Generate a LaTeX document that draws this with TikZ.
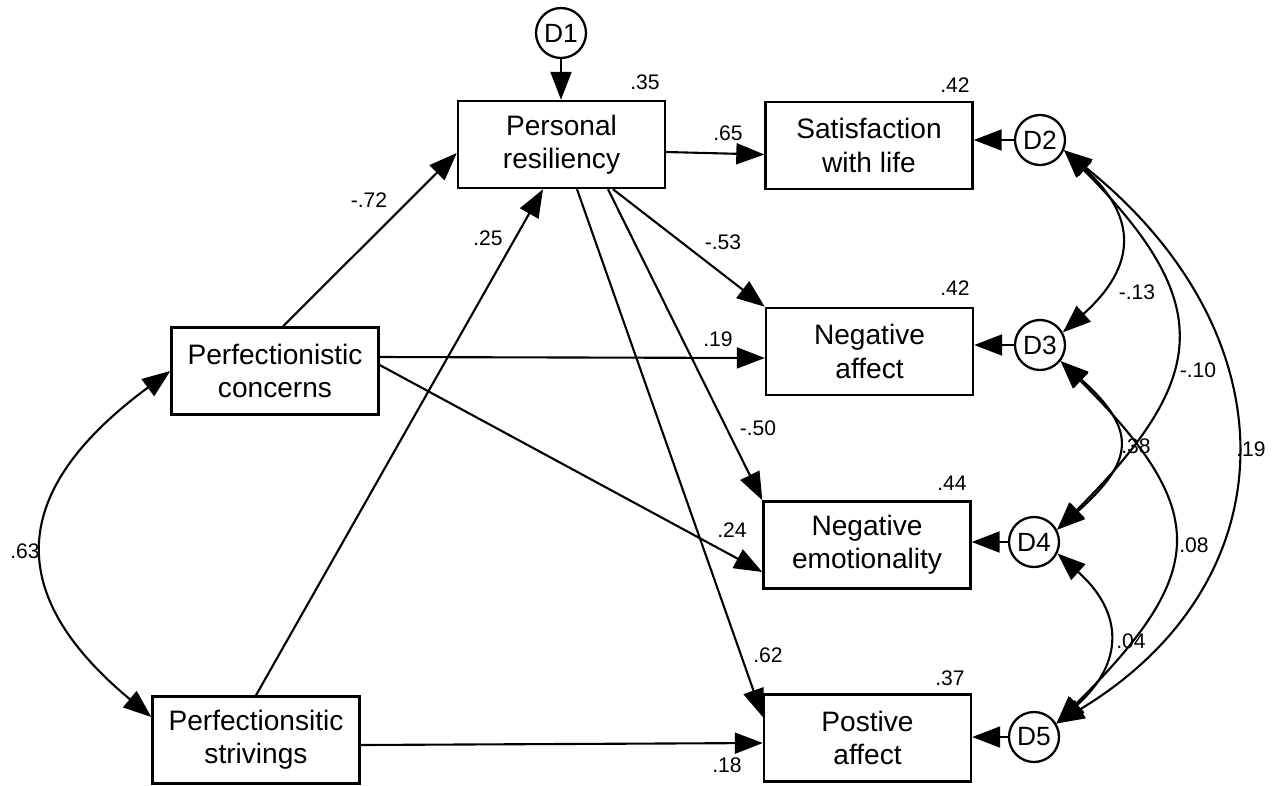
\documentclass[tikz,border=0pt]{standalone}
\usepackage{fontspec}
\setmainfont{Liberation Sans}
\usetikzlibrary{arrows.meta,calc}
\begin{document}
\begin{tikzpicture}[x=0.02cm,y=-0.02cm,
  box/.style={draw,line width=1.4pt,minimum width=4.14cm,minimum height=1.74cm,inner sep=0pt,align=center,font=\fontsize{16}{19}\selectfont},
  err/.style={draw,circle,line width=1.3pt,minimum size=1cm,inner sep=0pt,font=\fontsize{15}{18}\selectfont},
  lab/.style={font=\fontsize{12}{14}\selectfont,inner sep=0pt},
  arr/.style={line width=1.2pt,-{Triangle[length=0.56cm,width=0.42cm]}},
  cov/.style={line width=1.2pt,{Triangle[length=0.56cm,width=0.42cm]}-{Triangle[length=0.56cm,width=0.42cm]}}
]
\useasboundingbox (0,0) rectangle (1280,785);

% boxes
\node[box] (PR)  at (561.5,144.5) {Personal\\resiliency};
\node[box] (SWL) at (869,145.5) {Satisfaction\\with life};
\node[box] (NA)  at (869.5,351.5) {Negative\\affect};
\node[box] (NE)  at (867,545) {Negative\\emotionality};
\node[box] (PA)  at (867.5,738) {Postive\\affect};
\node[box] (PC)  at (275,371) {Perfectionistic\\concerns};
\node[box] (PS)  at (256,740) {Perfectionsitic\\strivings};

% disturbances
\node[err] (D1) at (561,33) {D1};
\node[err] (D2) at (1040,140) {D2};
\node[err] (D3) at (1040,345) {D3};
\node[err] (D4) at (1034,542) {D4};
\node[err] (D5) at (1034,737) {D5};

% R-squared
\node[lab] (r1) at (645,82) {.35};
\node[lab] (r2) at (955,85) {.42};
\node[lab] (r3) at (955,288) {.42};
\node[lab] (r4) at (952,483) {.44};
\node[lab] (r5) at (950,678) {.37};

% disturbance arrows
\draw[arr] (D1.south) -- (D1.south |- PR.north);
\draw[arr] (D2.west) -- (D2.west -| SWL.east);
\draw[arr] (D3.west) -- (D3.west -| NA.east);
\draw[arr] (D4.west) -- (D4.west -| NE.east);
\draw[arr] (D5.west) -- (D5.west -| PA.east);

% structural paths
\draw[arr] ([xshift=0.16cm]PC.north) -- ([yshift=-0.17cm]PR.west);
\draw[arr] (PS.north) -- ([xshift=-0.37cm]PR.south);
\draw[arr] ([yshift=-0.15cm]PR.east) -- ([yshift=-0.18cm]SWL.west);
\draw[arr] ([xshift=1.03cm]PR.south) -- (NA.north west);
\draw[arr] ([xshift=0.93cm]PR.south) -- (NE.north west);
\draw[arr] ([xshift=0.31cm]PR.south) -- ([yshift=0.42cm]PA.west);
\draw[arr] ([yshift=0.28cm]PC.east) -- ([yshift=-0.13cm]NA.west);
\draw[arr] ([yshift=0.12cm]PC.east) -- ([yshift=-0.54cm]NE.west);
\draw[arr] ([yshift=-0.1cm]PS.east) -- ([yshift=-0.1cm]PA.west);

% path labels
\node[lab] (l1) at (369,200) {-.72};
\node[lab] (l2) at (488,238) {.25};
\node[lab] (l3) at (728,133) {.65};
\node[lab] (l4) at (723,242) {-.53};
\node[lab] (l5) at (718,339) {.19};
\node[lab] (l6) at (758,428) {-.50};
\node[lab] (l7) at (732,530) {.24};
\node[lab] (l8) at (768,655) {.62};
\node[lab] (l9) at (727,765) {.18};

% covariances
\draw[cov] (PC.west) .. controls (16,485) and (-4,588) .. ([yshift=0.46cm]PS.west);
\node[lab] (c0) at (25,551) {.63};

\draw[cov] (D2.-23) .. controls (1138,217) and (1137,266) .. (D3.29);
\draw[cov] (D2.-23) .. controls (1216,303) and (1210,377) .. (D4.28);
\draw[cov] (D2.-23) .. controls (1296,336) and (1290,583) .. (D5.31);
\draw[cov] (D3.-38) .. controls (1139,431) and (1133,462) .. (D4.28);
\draw[cov] (D3.-38) .. controls (1213,513) and (1207,573) .. (D5.31);
\draw[cov] (D4.-26) .. controls (1124,613) and (1124,663) .. (D5.31);

\node[lab] (c1) at (1137,292) {-.13};
\node[lab] (c2) at (1198,370) {-.10};
\node[lab] (c3) at (1251,449) {.19};
\node[lab] (c4) at (1136,446) {.38};
\node[lab] (c5) at (1194,545) {.08};
\node[lab] (c6) at (1131,641) {.04};
\end{tikzpicture}
\end{document}
